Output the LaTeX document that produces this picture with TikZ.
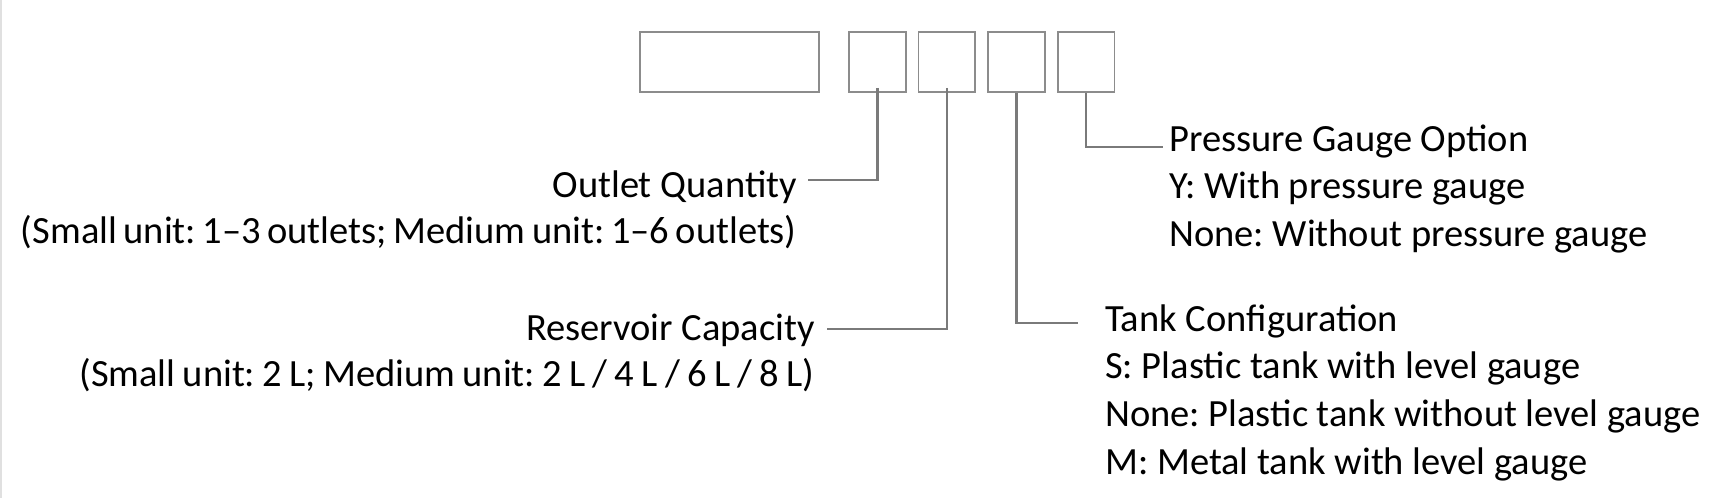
\documentclass[tikz,border=0pt]{standalone}
\usepackage{fontspec}
\setmainfont{Carlito}
\frenchspacing
\newcommand{\tightwords}{\spaceskip=0.17em\relax}
\newcommand{\semitightwords}{\spaceskip=0.19em\relax}
\begin{document}
\begin{tikzpicture}[x=1pt,y=-1pt,
  codebox/.style={draw=boxgray,line width=1.6pt,inner sep=0pt,minimum height=60pt},
  lead/.style={draw=linegray,line width=2.2pt},
  lbl/.style={inner sep=0pt,font=\fontsize{38.5}{46}\selectfont\frenchspacing,text=black}]
\definecolor{boxgray}{HTML}{8C8C8C}
\definecolor{linegray}{HTML}{7A7A7A}
\useasboundingbox (0,0) rectangle (1717,498);
\draw[draw=black!12,line width=2pt] (1,0) -- (1,498);
% boxes
\node[codebox,minimum width=179pt] (b0) at (729.5,62) {};
\node[codebox,minimum width=56.5pt] (b1) at (877.5,62) {};
\node[codebox,minimum width=56.5pt] (b2) at (946.8,62) {};
\node[codebox,minimum width=56.5pt] (b3) at (1016.5,62) {};
\node[codebox,minimum width=56.5pt] (b4) at (1086.2,62) {};
% left labels
\node[lbl,anchor=base east] (oq) at (797,197.5) {Outlet Quantity};
\node[lbl,anchor=base east] (oqd) at (797,243) {\tightwords (Small unit: 1–3 outlets; Medium unit: 1–6 outlets)};
\node[lbl,anchor=base east] (rc) at (815,340) {Reservoir Capacity};
\node[lbl,anchor=base east] (rcd) at (815,386) {\semitightwords (Small unit: 2 L; Medium unit: 2 L / 4 L / 6 L / 8 L)};
% right labels
\node[lbl,anchor=base west] (pg) at (1169,151.5) {Pressure Gauge Option};
\node[lbl,anchor=base west] (pg1) at (1169,198.5) {Y: With pressure gauge};
\node[lbl,anchor=base west] (pg2) at (1169,246) {None: Without pressure gauge};
\node[lbl,anchor=base west] (tc) at (1105,331.5) {Tank Configuration};
\node[lbl,anchor=base west] (tc1) at (1105,378.5) {S: Plastic tank with level gauge};
\node[lbl,anchor=base west] (tc2) at (1105,426.5) {None: Plastic tank without level gauge};
\node[lbl,anchor=base west] (tc3) at (1105,474) {M: Metal tank with level gauge};
% connector ends
\coordinate (s1) at ([yshift=5pt]b1.south);
\coordinate (s2) at ([yshift=5pt]b2.south);
\coordinate (e1) at (808,180);
\coordinate (e2) at (827,329);
\coordinate (e3) at (1078,323);
\coordinate (e4) at (1163,147);
\draw[lead] (s1) |- (e1);
\draw[lead] (s2) |- (e2);
\draw[lead] (b3.south) |- (e3);
\draw[lead] (b4.south) |- (e4);
\end{tikzpicture}
\end{document}
